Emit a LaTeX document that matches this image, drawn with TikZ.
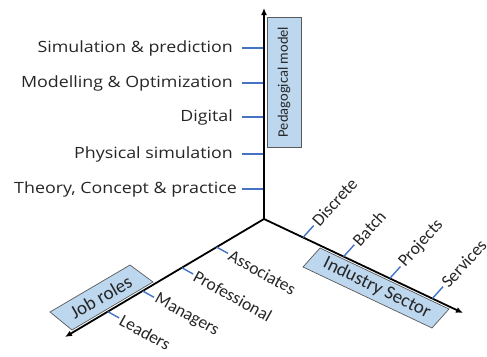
\documentclass[tikz,border=0pt]{standalone}
\usepackage{fontspec}
\setmainfont{Carlito}
\newfontfamily\leftfont[FakeStretch=1.15]{Open Sans}
\usetikzlibrary{arrows.meta, calc, positioning}
\definecolor{tickblue}{RGB}{68,114,196}
\definecolor{boxblue}{RGB}{189,215,238}
\definecolor{txtgray}{RGB}{38,38,38}

\begin{document}
\begin{tikzpicture}[x=1pt, y=-1pt,
  axis/.style={line width=1.8pt, -{Latex[length=7pt,width=6pt]}},
  tick/.style={draw=tickblue, line width=1.4pt},
  boxlbl/.style={draw=black!65, line width=0.7pt, fill=boxblue},
  leftlbl/.style={anchor=base east, inner sep=0pt, xshift=-9pt, yshift=-4.7pt, text=txtgray, font=\leftfont\fontsize{15.5}{16}\selectfont},
  axlbl/.style={anchor=west, inner sep=2pt, text=txtgray, font=\fontsize{17.5}{18}\selectfont}]
\useasboundingbox (0,0) rectangle (487,356);
\coordinate (o) at (264,219);
\coordinate (ped) at (264,8);
\coordinate (ind) at (463,313);
\coordinate (job) at (65,337);
% the three labelled boxes
\node[boxlbl, rotate=90, minimum width=130pt, minimum height=34pt, inner sep=0pt, text=txtgray, font=\fontsize{14.5}{15}\selectfont] (pm) at (284,82) {Pedagogical model};
\draw[boxlbl] (303,267) -- (432,328) -- (449,309) -- (320,248) -- cycle;
\node[rotate=-26, text=txtgray, font=\fontsize{19}{20}\selectfont] (is) at (377,288) {Industry Sector};
\draw[boxlbl] (50,312) -- (72,330) -- (153,282) -- (130,265) -- cycle;
\node[rotate=30, text=txtgray, font=\fontsize{19}{20}\selectfont] (jr) at (101,297) {Job roles};
% axes
\draw[axis] (o) -- (ped);
\draw[axis] (o) -- (ind);
\draw[axis] (o) -- (job);
% ticks and their labels
\foreach \y/\t [count=\i] in {48/Simulation \& prediction, 83/Modelling \& Optimization, 117/Digital~, 154/Physical simulation, 189/{Theory, Concept \& practice\hspace*{-4pt}}}{
  \coordinate (pa\i) at (263,\y);
  \coordinate (pb\i) at (242,\y);
  \draw[tick] (pa\i) -- (pb\i);
  \node[leftlbl] (pl\i) at (pb\i) {\t};
}
\foreach \p/\t [count=\i] in {0.196/Discrete, 0.40/Batch, 0.632/Projects, 0.846/Services}{
  \coordinate (ia\i) at ($(o)!\p!(ind)$);
  \coordinate (ib\i) at ($(ia\i)+(-48:16)$);
  \draw[tick] (ia\i) -- (ib\i);
  \node[axlbl, rotate=48] (il\i) at (ib\i) {\t};
}
\foreach \p/\t [count=\i] in {0.238/Associates, 0.413/Professional, 0.61/Managers, 0.785/Leaders}{
  \coordinate (ja\i) at ($(o)!\p!(job)$);
  \coordinate (jb\i) at ($(ja\i)+(29:13)$);
  \draw[tick] (ja\i) -- (jb\i);
  \node[axlbl, rotate=-29] (jl\i) at (jb\i) {\t};
}
\end{tikzpicture}
\end{document}
